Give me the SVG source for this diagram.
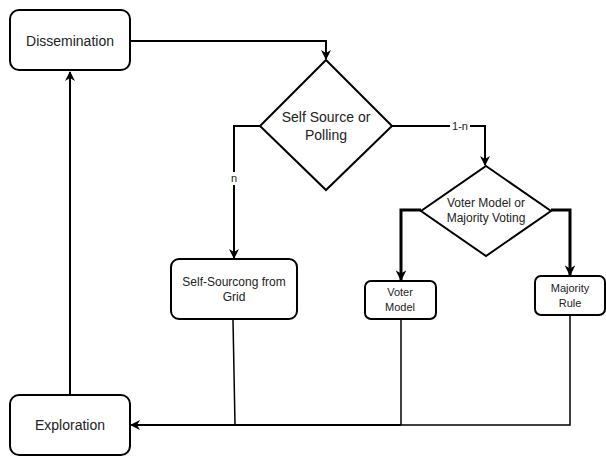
<svg xmlns="http://www.w3.org/2000/svg" width="606" height="460" viewBox="0 0 606 460">
  <style>
    .box { fill: #ffffff; stroke: #000000; stroke-width: 2; }
    .lbl { font-family: "Liberation Sans", Arial, Helvetica, sans-serif; fill: #222222; text-anchor: middle; }
    .wire { fill: none; stroke: #000000; stroke-width: 2; }
    .thick { stroke-width: 3; }
    .thin { stroke-width: 1.5; }
    .elabel { font-family: "Liberation Sans", Arial, Helvetica, sans-serif; font-size: 11px; fill: #222222; text-anchor: middle; }
  </style>
  <defs>
    <marker id="arrow" viewBox="0 0 10 10" refX="9" refY="5" markerWidth="5" markerHeight="5" orient="auto" markerUnits="strokeWidth">
      <path d="M0,0 L10,5 L0,10 L3,5 Z" fill="#000000"/>
    </marker>
    <marker id="arrowS" viewBox="0 0 10 10" refX="9" refY="5" markerWidth="3.6" markerHeight="3.6" orient="auto" markerUnits="strokeWidth">
      <path d="M0,0 L10,5 L0,10 L3,5 Z" fill="#000000"/>
    </marker>
  </defs>

  <!-- connectors -->
  <g id="connectors">
    <path class="wire" d="M130,41 H326 V59" marker-end="url(#arrow)"/>
    <path class="wire" d="M260,126 H234 V258" marker-end="url(#arrow)"/>
    <path class="wire" d="M392,126 H485 V165" marker-end="url(#arrow)"/>
    <path class="wire thick" d="M421,210 H401 V280" marker-end="url(#arrowS)"/>
    <path class="wire thick" d="M551,210 H570 V275" marker-end="url(#arrowS)"/>
    <path class="wire" d="M70,395 V72" marker-end="url(#arrow)"/>
    <path class="wire thin" d="M233,320 L235,425"/>
    <path class="wire thin" d="M401,319 V425"/>
    <path class="wire thin" d="M570,315 V425 H401"/>
    <path class="wire" d="M401,425 H131" marker-end="url(#arrow)"/>
    <rect x="229" y="172" width="10" height="13" fill="#ffffff"/>
    <text class="elabel" x="234" y="182">n</text>
    <rect x="450" y="120" width="20" height="12" fill="#ffffff"/>
    <text class="elabel" x="460" y="130">1-n</text>
  </g>

  <g id="dissemination">
    <rect class="box" x="10" y="10" width="120" height="60" rx="9"/>
    <text class="lbl" x="70" y="46" font-size="14">Dissemination</text>
  </g>

  <g id="self-source-or-polling">
    <polygon class="box" points="326,60 392,126 326,190 260,126"/>
    <text class="lbl" x="326" y="122" font-size="14">Self Source or</text>
    <text class="lbl" x="326" y="140" font-size="14">Polling</text>
  </g>

  <g id="voter-or-majority">
    <polygon class="box" points="486,166 551,211 486,256 421,211"/>
    <text class="lbl" x="486" y="207" font-size="12">Voter Model or</text>
    <text class="lbl" x="486" y="222" font-size="12">Majority Voting</text>
  </g>

  <g id="self-sourcing">
    <rect class="box" x="171" y="259" width="126" height="60" rx="8"/>
    <text class="lbl" x="234" y="286" font-size="12">Self-Sourcong from</text>
    <text class="lbl" x="234" y="301" font-size="12">Grid</text>
  </g>

  <g id="voter-model">
    <rect class="box" x="365" y="281" width="71" height="38" rx="6"/>
    <text class="lbl" x="400" y="296" font-size="11">Voter</text>
    <text class="lbl" x="400" y="311" font-size="11">Model</text>
  </g>

  <g id="majority-rule">
    <rect class="box" x="535" y="276" width="70" height="39" rx="6"/>
    <text class="lbl" x="570" y="292" font-size="11">Majority</text>
    <text class="lbl" x="570" y="307" font-size="11">Rule</text>
  </g>

  <g id="exploration">
    <rect class="box" x="10" y="395" width="120" height="60" rx="9"/>
    <text class="lbl" x="70" y="430" font-size="14">Exploration</text>
  </g>
</svg>
